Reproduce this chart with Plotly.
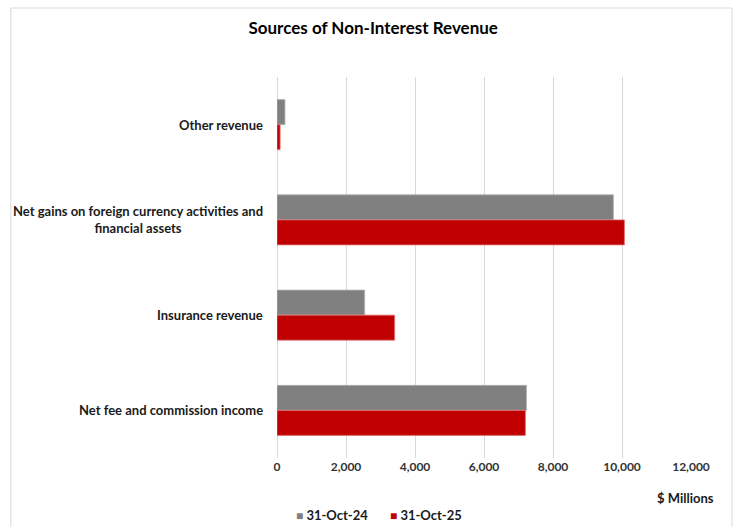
import plotly.graph_objects as go

categories = ["Other revenue",
              "Net gains on foreign currency activities and financial assets",
              "Insurance revenue",
              "Net fee and commission income"]
cat_labels = ["Other revenue",
              "Net gains on foreign currency activities and<br>financial assets",
              "Insurance revenue",
              "Net fee and commission income"]
series_names = ["31-Oct-24", "31-Oct-25"]
series_colors = ["#808080", "#C00000"]
values_2024 = [230, 9750, 2540, 7230]
values_2025 = [90, 10070, 3410, 7200]
x_ticks = [0, 2000, 4000, 6000, 8000, 10000, 12000]
x_tick_text = ["0", "2,000", "4,000", "6,000", "8,000", "10,000", "12,000"]

FONT = "Lato, 'Open Sans', sans-serif"
W, H = 739, 527
L, R, T, B = 276.5, 48, 77, 69
pw, ph = W - L - R, H - T - B

fig = go.Figure()
fig.add_trace(go.Bar(y=categories, x=values_2024, name=series_names[0], orientation="h",
                     marker=dict(color=series_colors[0], line=dict(color="#b0b0b0", width=0.8))))
fig.add_trace(go.Bar(y=categories, x=values_2025, name=series_names[1], orientation="h",
                     marker=dict(color=series_colors[1], line=dict(color="#e07070", width=0.8))))

for c, lab in zip(categories, cat_labels):
    fig.add_annotation(x=-12 / pw, xref="paper", y=c, yref="y", text=lab,
                       showarrow=False, xanchor="right", yanchor="middle", align="center",
                       font=dict(family=FONT, size=13, color="#1a1a1a", weight="bold"))

fig.add_annotation(x=(716 - L) / pw, xref="paper", y=-(497.5 - (T + ph)) / ph, yref="paper",
                   text="$ Millions", showarrow=False, xanchor="right", yanchor="middle",
                   font=dict(family=FONT, size=13, color="#1a1a1a", weight="bold"))

# legend drawn as text entries
for name, col, xpos in zip(series_names, series_colors, [294, 388]):
    fig.add_annotation(x=(xpos - L) / pw, xref="paper", y=-(515 - (T + ph)) / ph, yref="paper",
                       text=f"<span style='color:{col};font-size:12px'>■</span> {name}",
                       showarrow=False, xanchor="left", yanchor="middle",
                       font=dict(family=FONT, size=13, color="#1a1a1a", weight="bold"))

# outer border
fig.add_shape(type="rect", xref="paper", yref="paper",
              x0=(10 - L) / pw, x1=(732 - L) / pw, y0=-(535 - (T + ph)) / ph, y1=1 + (T - 8) / ph,
              line=dict(color="#d9d9d9", width=1), fillcolor="rgba(0,0,0,0)", layer="below")

fig.update_layout(
    width=W, height=H,
    margin=dict(l=L, r=R, t=T, b=B, autoexpand=False),
    paper_bgcolor="white", plot_bgcolor="white",
    barmode="group", bargap=0.475, bargroupgap=0,
    title=dict(text="Sources of Non-Interest Revenue", x=0.505, xanchor="center",
               y=1 - 28 / H, yanchor="middle",
               font=dict(family=FONT, size=17, color="#000000", weight="bold")),
    xaxis=dict(range=[0, 12000], tickvals=x_ticks, ticktext=x_tick_text,
               showgrid=True, gridcolor="#d9d9d9", gridwidth=1, zeroline=True,
               zerolinecolor="#d9d9d9", zerolinewidth=1, showline=False, ticks="",
               tickfont=dict(family=FONT, size=12, color="#333333", weight="bold")),
    yaxis=dict(categoryorder="array", categoryarray=categories, autorange="reversed",
               showticklabels=False, showgrid=False, zeroline=False, showline=False, ticks=""),
    showlegend=False,
)

fig.write_html("out.html")
